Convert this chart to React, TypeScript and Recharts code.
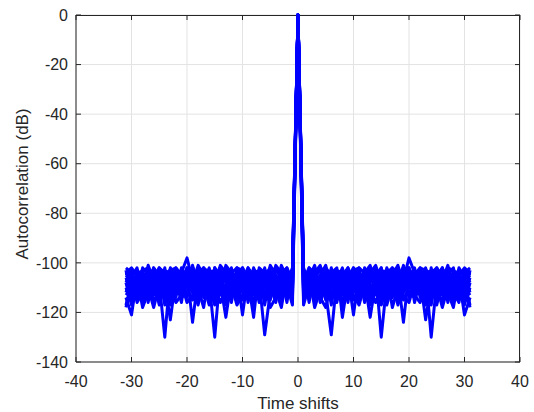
import { LineChart, Line, XAxis, YAxis, CartesianGrid } from "recharts";

// autocorrelation sidelobes for shifts 1..31 (mirrored for negative shifts)
const seq1 = [-108, -103, -112, -105, -101, -110, -104, -113, -102, -107, -111, -103, -106, -109, -102, -114, -105, -101, -108, -103, -112, -106, -102, -110, -104, -107, -101, -111, -105, -103, -108];
const seq2 = [-113, -106, -101, -110, -107, -103, -115, -104, -109, -102, -106, -112, -104, -101, -108, -105, -111, -103, -107, -98, -104, -109, -106, -103, -112, -102, -108, -105, -110, -104, -102];
const seq3 = [-117, -109, -105, -103, -112, -129, -107, -102, -111, -106, -103, -109, -114, -105, -102, -110, -104, -112, -106, -102, -108, -103, -111, -106, -102, -109, -113, -104, -107, -112, -106];
const seq4 = [-104, -111, -107, -102, -106, -113, -105, -110, -103, -108, -102, -113, -107, -104, -130, -108, -102, -115, -104, -107, -110, -103, -106, -113, -105, -102, -109, -106, -103, -116, -110];
const seq5 = [-110, -104, -113, -108, -103, -107, -116, -105, -102, -112, -108, -104, -101, -110, -106, -117, -109, -103, -112, -106, -102, -111, -104, -130, -108, -104, -112, -118, -106, -121, -114];
const seq6 = [-106, -114, -103, -116, -109, -104, -102, -122, -107, -104, -114, -107, -122, -108, -104, -103, -112, -106, -124, -104, -109, -106, -123, -108, -115, -106, -103, -110, -113, -107, -104];
const seq7 = [-102, -108, -116, -105, -111, -102, -110, -106, -116, -103, -109, -105, -102, -113, -110, -107, -104, -108, -101, -114, -105, -102, -108, -103, -110, -116, -105, -102, -111, -108, -117];
const seq8 = [-112, -102, -106, -113, -104, -117, -103, -108, -105, -121, -104, -110, -108, -103, -112, -102, -107, -114, -110, -102, -116, -107, -104, -117, -103, -111, -107, -113, -102, -106, -112];
const seq9 = [-115, -110, -108, -107, -115, -105, -112, -103, -113, -109, -116, -102, -110, -107, -115, -106, -114, -105, -103, -109, -103, -114, -109, -105, -106, -113, -104, -109, -115, -103, -105];
const seq10 = [-103, -116, -104, -101, -109, -112, -108, -117, -106, -102, -105, -108, -117, -102, -107, -111, -103, -102, -115, -110, -106, -104, -115, -102, -111, -104, -116, -103, -108, -114, -103];
const seq11 = [-109, -105, -118, -111, -106, -104, -113, -109, -104, -115, -112, -106, -111, -116, -109, -104, -118, -110, -107, -112, -114, -108, -113, -111, -109, -118, -110, -115, -104, -109, -118];
const seq12 = [-106, -112, -109, -114, -118, -108, -106, -111, -114, -108, -104, -116, -109, -112, -117, -110, -106, -109, -113, -116, -108, -112, -105, -109, -117, -108, -114, -107, -112, -117, -108];
const seq13 = [-104, -107, -110, -106, -113, -115, -109, -104, -108, -113, -117, -109, -105, -111, -104, -113, -108, -117, -110, -105, -113, -116, -110, -107, -113, -105, -110, -116, -109, -110, -113];
const seq14 = [-111, -113, -104, -109, -105, -109, -111, -115, -110, -106, -110, -103, -112, -106, -111, -107, -110, -104, -112, -107, -111, -105, -117, -112, -104, -110, -106, -112, -116, -105, -107];
const seq15 = [-105, -104, -107, -112, -108, -106, -104, -107, -103, -110, -107, -106, -103, -104, -105, -103, -106, -107, -104, -106, -104, -103, -106, -104, -105, -103, -104, -105, -103, -104, -106];
const seq16 = [-107, -102, -104, -103, -102, -105, -103, -104, -106, -103, -102, -104, -103, -105, -103, -104, -102, -106, -102, -103, -105, -102, -103, -104, -102, -106, -102, -103, -105, -102, -104];

const sequences = [seq1, seq2, seq3, seq4, seq5, seq6, seq7, seq8, seq9, seq10, seq11, seq12, seq13, seq14, seq15, seq16];
const xTicks = [-40, -30, -20, -10, 0, 10, 20, 30, 40];
const yTicks = [-140, -120, -100, -80, -60, -40, -20, 0];
const maxShift = 31;

const data: any[] = [];
for (let k = -maxShift; k <= maxShift; k++) {
  const row: any = { shift: k };
  sequences.forEach((s, i) => {
    row["s" + i] = k === 0 ? 0 : s[Math.abs(k) - 1];
  });
  data.push(row);
}

const W = 534;
const H = 412;
const margin = { top: 15, right: 14, bottom: 0, left: 0 };
const yAxisWidth = 76;
const xAxisHeight = 50;
// plot box, used only for the top/right frame edges and their ticks
const plotL = margin.left + yAxisWidth;
const plotT = margin.top;
const plotW = W - margin.right - plotL;
const plotH = H - margin.bottom - xAxisHeight - plotT;
const xMin = xTicks[0];
const xMax = xTicks[xTicks.length - 1];
const yMin = yTicks[0];
const yMax = yTicks[yTicks.length - 1];

const axisColor = "#262626";
const font = "'Liberation Sans', Arial, sans-serif";

export default function App() {
  return (
    <div style={{ position: "absolute", left: 0, top: 0, width: W, height: H, background: "#fff", fontFamily: font }}>
      <LineChart width={W} height={H} data={data} margin={margin}>
        <CartesianGrid stroke="#e3e3e3" />
        <XAxis
          dataKey="shift"
          type="number"
          domain={[xMin, xMax]}
          ticks={xTicks}
          height={xAxisHeight}
          stroke={axisColor}
          tickSize={-5}
          tickMargin={19}
          tick={{ fill: axisColor, fontSize: 16 }}
          label={{
            content: () => (
              <text x={plotL + plotW / 2} y={409} textAnchor="middle" fontSize={17} fill={axisColor} fontFamily={font}>
                Time shifts
              </text>
            ),
          }}
        />
        <YAxis
          type="number"
          domain={[yMin, yMax]}
          ticks={yTicks}
          width={yAxisWidth}
          stroke={axisColor}
          tickSize={-5}
          tickMargin={13}
          tick={{ fill: axisColor, fontSize: 16 }}
          label={{
            content: () => (
              <text
                x={28}
                y={184}
                textAnchor="middle"
                fontSize={17}
                fill={axisColor}
                fontFamily={font}
                transform="rotate(-90, 28, 184)"
              >
                Autocorrelation (dB)
              </text>
            ),
          }}
        />
        {sequences.map((_, i) => (
          <Line
            key={i}
            dataKey={"s" + i}
            type="linear"
            stroke="#0000ff"
            strokeWidth={3}
            strokeLinejoin="round"
            dot={false}
            isAnimationActive={false}
          />
        ))}
        {/* top and right edges of the box with inward ticks */}
        <line x1={plotL} y1={plotT + 0.5} x2={plotL + plotW} y2={plotT + 0.5} stroke={axisColor} />
        <line x1={plotL + plotW - 0.5} y1={plotT} x2={plotL + plotW - 0.5} y2={plotT + plotH} stroke={axisColor} />
        {xTicks.map((t) => {
          const px = plotL + ((t - xMin) / (xMax - xMin)) * plotW;
          return <line key={"tx" + t} x1={px} y1={plotT} x2={px} y2={plotT + 5} stroke={axisColor} />;
        })}
        {yTicks.map((t) => {
          const py = plotT + ((yMax - t) / (yMax - yMin)) * plotH;
          return <line key={"ty" + t} x1={plotL + plotW} y1={py} x2={plotL + plotW - 5} y2={py} stroke={axisColor} />;
        })}
      </LineChart>
    </div>
  );
}
